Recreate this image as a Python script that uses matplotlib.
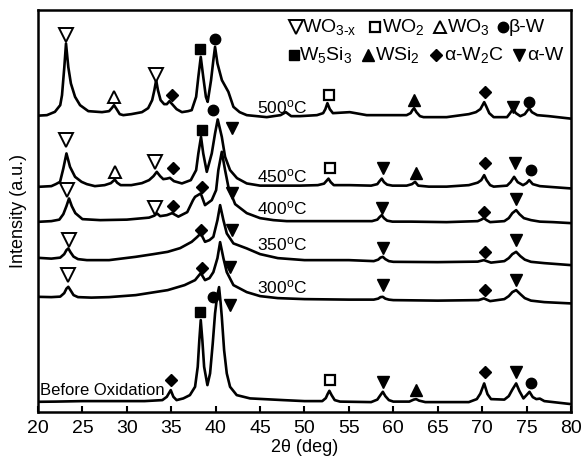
import numpy as np
import matplotlib.pyplot as plt

plt.rcParams['font.family'] = ['Liberation Sans', 'DejaVu Sans']
plt.rcParams['mathtext.fontset'] = 'custom'
plt.rcParams['mathtext.rm'] = 'Liberation Sans'
plt.rcParams['mathtext.it'] = 'Liberation Sans:italic'

# XRD patterns, (2theta, intensity a.u.), stacked with offsets
t500 = [(20.0, 296.5), (21.0, 297), (21.9, 300.3), (22.5, 307), (22.7, 317), (22.96, 345),
        (23.15, 368.7), (23.41, 345), (23.7, 328.7), (24.17, 315.3), (24.73, 307),
        (25.66, 301), (27.2, 300), (28.0, 301), (28.3, 304), (28.56, 307), (28.85, 303),
        (29.2, 298), (29.6, 297), (30.5, 298), (31.7, 300), (32.4, 304), (32.85, 312),
        (33.1, 322), (33.3, 332), (33.5, 322), (33.8, 312), (34.2, 308), (34.5, 308),
        (34.8, 311), (35.1, 308), (35.6, 303), (36.2, 300), (36.9, 301), (37.3, 302),
        (37.8, 315.3), (38.05, 335.3), (38.32, 355.3), (38.6, 335.3), (38.9, 315.3),
        (39.1, 310.3), (39.48, 332), (39.74, 352), (39.93, 365.3), (40.2, 348.7),
        (40.7, 332), (41.43, 320.3), (42.0, 305.3), (42.7, 300), (43.5, 297), (45.75, 295),
        (47.3, 297), (47.9, 300), (48.5, 296), (49.5, 296), (51.4, 297), (52.1, 299),
        (52.35, 303), (52.58, 309), (52.85, 303), (53.2, 299), (55.1, 300), (57.0, 297),
        (59.3, 297), (61.5, 297), (61.95, 299), (62.15, 302), (62.34, 304), (62.6, 300),
        (63.0, 296), (63.4, 295), (66.0, 295), (68.5, 298), (69.3, 300), (69.8, 303),
        (70.05, 307), (70.23, 310), (70.45, 306), (70.8, 299), (71.3, 295), (72.8, 295),
        (73.15, 299), (73.46, 303), (73.8, 299), (74.3, 296), (74.8, 298), (75.05, 301),
        (75.3, 304), (75.6, 300), (76.2, 297), (77.5, 296), (79.5, 294), (80.0, 293.5)]

t450 = [(20.0, 225.3), (21.5, 226), (22.0, 228), (22.48, 230.3), (22.85, 243.7),
        (23.2, 258.7), (23.6, 245.3), (24.17, 235.3), (24.9, 230.3), (25.5, 228),
        (26.4, 226), (27.5, 227), (28.2, 229), (28.45, 231), (28.65, 232.5), (28.9, 229.5),
        (29.3, 227), (30.5, 227), (31.7, 229), (32.5, 232), (33.0, 236), (33.37, 240.3),
        (33.75, 236), (34.1, 233), (34.5, 233.5), (34.85, 234.3), (35.3, 231), (36.2, 228.7),
        (37.2, 232), (37.8, 242), (38.05, 258.7), (38.35, 275.3), (38.6, 258.7),
        (39.0, 240.3), (39.56, 258.7), (39.93, 278.7), (40.23, 292.7), (40.69, 275.3),
        (41.06, 255.3), (41.62, 242), (42.4, 234), (43.5, 228.7), (45.0, 226.5),
        (47.0, 226.5), (49.5, 226.5), (51.5, 227), (52.2, 228.5), (52.45, 231),
        (52.7, 233.5), (52.95, 230), (53.3, 227), (55.1, 227), (57.5, 226.5), (58.2, 228),
        (58.45, 231), (58.7, 233.5), (58.95, 230), (59.3, 227.5), (59.9, 226.5),
        (61.5, 226.5), (62.1, 228), (62.45, 230.3), (62.8, 226.5), (64.0, 225.5),
        (66.0, 225.5), (68.5, 227), (69.5, 229.5), (69.9, 232), (70.23, 237), (70.5, 232),
        (70.9, 227), (71.3, 225.5), (72.8, 226.5), (73.2, 230), (73.6, 235.3), (74.0, 230),
        (74.6, 227), (75.0, 229), (75.3, 232), (75.7, 228), (76.5, 226), (78.0, 225),
        (80.0, 223.7)]

t400 = [(20.0, 190.3), (21.5, 191), (22.4, 192.5), (22.85, 198), (23.2, 206),
        (23.49, 213.7), (23.8, 206), (24.2, 199), (25.0, 193), (27.0, 192), (30.0, 192.5),
        (32.5, 194.5), (33.1, 196.5), (33.4, 198.7), (33.75, 196), (34.5, 197), (35.1, 199),
        (35.8, 195.5), (36.8, 200), (37.45, 212), (37.68, 215.3), (38.32, 218.7),
        (38.8, 207), (39.56, 212), (40.05, 222), (40.3, 242), (40.69, 260.3), (41.06, 242),
        (41.43, 225.3), (42.19, 208), (43.5, 199), (45.0, 194), (46.5, 192), (48.0, 191),
        (50.0, 191), (55.0, 191), (57.6, 191), (58.2, 192.5), (58.45, 195), (58.7, 197),
        (58.95, 194), (59.3, 191.5), (59.9, 190.5), (62.0, 190.5), (66.0, 190), (69.5, 191),
        (69.9, 192.5), (70.2, 194), (70.5, 192), (70.9, 190), (72.5, 191), (73.0, 194),
        (73.4, 199), (73.83, 202), (74.2, 198), (74.7, 194), (75.5, 192), (76.5, 190.5),
        (78.0, 190), (80.0, 189)]

t350 = [(20.0, 154.3), (21.5, 153.5), (22.5, 154.5), (22.95, 158), (23.2, 162),
        (23.41, 163.7), (23.65, 160), (24.0, 155.5), (24.5, 153), (25.5, 152), (28.0, 152),
        (31.0, 155.3), (33.0, 158), (34.6, 160.3), (36.0, 164), (37.3, 170.3), (37.9, 175),
        (38.32, 178.7), (38.8, 170.3), (39.3, 172), (39.74, 175.3), (40.2, 192), (40.5, 207),
        (40.87, 192), (41.25, 178.7), (42.0, 168.7), (43.5, 163.7), (45.0, 158), (47.0, 154),
        (50.0, 152), (55.0, 152), (57.8, 151), (58.3, 152.5), (58.55, 154.5), (58.82, 155.3),
        (59.1, 153), (59.5, 151), (60.0, 150.3), (65.0, 150), (69.5, 150.5), (70.2, 152),
        (71.0, 149.5), (72.5, 151), (73.0, 154), (73.4, 158), (73.83, 160.3), (74.3, 156),
        (74.8, 152.5), (75.5, 150.3), (77.0, 149), (80.0, 147)]

t300 = [(20.0, 115.3), (21.5, 115), (22.5, 115.5), (22.95, 119), (23.2, 123.5),
        (23.41, 125.3), (23.65, 122), (24.0, 117), (24.5, 115), (26.0, 114.5), (28.0, 115),
        (31.0, 117), (34.6, 122), (36.5, 127), (37.68, 132), (38.32, 139), (38.8, 132),
        (39.3, 134), (39.74, 140), (40.2, 154), (40.5, 170), (40.87, 154), (41.25, 140),
        (42.0, 127), (43.5, 120), (45.0, 116), (47.0, 114), (50.0, 113), (55.0, 112.5),
        (57.8, 112.5), (58.3, 113.5), (58.55, 115), (58.82, 115.3), (59.1, 113.5),
        (59.5, 112.5), (60.0, 112), (65.0, 111.5), (69.6, 112), (70.2, 113.7), (70.9, 111),
        (72.5, 113), (73.0, 116), (73.4, 120), (73.83, 122), (74.3, 118), (74.8, 114),
        (75.5, 111.5), (77.0, 110), (80.0, 108.7)]

t_before = [(20.0, 10.3), (22.0, 10.5), (25.0, 11), (28.0, 11), (32.0, 11), (34.0, 12),
            (34.5, 15.3), (34.94, 22), (35.24, 15.3), (35.6, 12), (36.36, 13.7), (37.1, 17),
            (37.68, 25.3), (37.98, 45.3), (38.16, 72), (38.32, 92), (38.5, 72), (38.7, 45.3),
            (39.07, 27), (39.37, 38.7), (39.67, 68.7), (39.93, 98.7), (40.15, 115),
            (40.38, 125), (40.55, 110), (40.69, 95.3), (40.95, 62), (41.25, 38.7),
            (41.62, 25.3), (42.37, 17), (43.87, 13.7), (47.6, 12), (50.0, 11), (52.0, 11),
            (52.4, 14), (52.6, 18), (52.8, 21.3), (53.05, 17), (53.4, 12), (54.0, 10.5),
            (57.5, 10), (58.2, 12.5), (58.55, 17), (58.82, 20.3), (59.1, 16), (59.5, 12),
            (60.0, 10.5), (61.8, 10.5), (62.3, 12.5), (62.57, 13), (62.9, 11.5), (63.6, 10),
            (68.5, 10), (69.4, 13), (69.8, 18.5), (70.23, 28.7), (70.6, 18), (71.0, 13),
            (72.5, 12.5), (73.0, 16), (73.4, 22.5), (73.83, 28.7), (74.2, 21), (74.65, 13.7),
            (75.0, 17), (75.33, 20.3), (75.7, 15), (76.1, 13), (76.5, 13.5), (77.0, 11),
            (80.0, 8)]

traces = [t500, t450, t400, t350, t300, t_before]
trace_labels = ['500', '450', '400', '350', '300', 'Before Oxidation']

# phase identification marks (2theta, intensity)
wo3x = [(23.15, 377), (33.29, 337.5), (23.15, 272), (33.18, 250.3), (23.3, 222),
        (33.18, 203.7), (23.5, 172), (23.41, 137)]
wo2 = [(52.8, 317), (52.85, 243.7), (52.85, 32)]
wo3 = [(28.56, 315.3), (28.67, 240.3)]
beta_w = [(39.93, 372.7), (75.33, 310.3), (39.74, 302), (75.48, 242), (39.74, 115.3),
          (75.48, 28.7)]
w5si3 = [(38.24, 362.7), (38.43, 282), (38.24, 100.3)]
wsi2 = [(62.34, 312), (62.57, 238.7), (62.57, 22)]
w2c = [(35.05, 317), (70.34, 320.3), (35.17, 243.7), (70.34, 248.7), (35.17, 206),
       (38.43, 225.3), (70.23, 200.3), (38.32, 182), (70.34, 160.3), (38.43, 144),
       (70.34, 122), (34.94, 32), (70.34, 40.3)]
alpha_w = [(73.46, 305.3), (41.85, 283.7), (58.82, 243.7), (73.72, 248.7), (41.85, 218.7),
           (58.7, 203.7), (73.83, 212.7), (41.85, 182), (58.82, 163.7), (73.83, 172),
           (41.62, 145.3), (58.82, 127), (73.83, 132), (41.62, 107), (58.82, 30.3),
           (73.83, 40.3)]

key_labels = [r'WO$_{3\text{-}\mathrm{x}}$', r'WO$_2$', r'WO$_3$', 'β-W',
              r'W$_5$Si$_3$', r'WSi$_2$', r'α-W$_2$C', 'α-W']

styles = {
    'wo3x': dict(marker='v', ms=9.5, mfc='white', mec='black', mew=1.4),
    'wo2': dict(marker='s', ms=7.5, mfc='white', mec='black', mew=1.6),
    'wo3': dict(marker='^', ms=8.5, mfc='white', mec='black', mew=1.4),
    'beta_w': dict(marker='o', ms=7.5, mfc='black', mec='black'),
    'w5si3': dict(marker='s', ms=7, mfc='black', mec='black'),
    'wsi2': dict(marker='^', ms=8.5, mfc='black', mec='black'),
    'w2c': dict(marker='D', ms=6.5, mfc='black', mec='black'),
    'alpha_w': dict(marker='v', ms=9, mfc='black', mec='black'),
}
phase_pts = {'wo3x': wo3x, 'wo2': wo2, 'wo3': wo3, 'beta_w': beta_w,
             'w5si3': w5si3, 'wsi2': wsi2, 'w2c': w2c, 'alpha_w': alpha_w}
key_order = ['wo3x', 'wo2', 'wo3', 'beta_w', 'w5si3', 'wsi2', 'w2c', 'alpha_w']

fig = plt.figure(figsize=(5.85, 4.62), dpi=100)
ax = fig.add_axes([0.065, 0.108, 0.911, 0.870])

for tr in traces:
    d = np.array(tr)
    ax.plot(d[:, 0], d[:, 1], color='black', lw=1.9, zorder=2,
            solid_joinstyle='round')

for name, pts in phase_pts.items():
    d = np.array(pts)
    ax.plot(d[:, 0], d[:, 1], ls='none', zorder=3, **styles[name])

# sample labels sitting on each pattern
for tr, lab in zip(traces[:5], trace_labels[:5]):
    d = np.array(tr)
    yb = np.interp(44.7, d[:, 0], d[:, 1])
    ax.text(44.6, yb + 2.5, lab + r'$^\mathregular{o}$C', fontsize=12.5,
            ha='left', va='baseline')
ax.text(20.25, 17, trace_labels[5], fontsize=12, ha='left', va='baseline')

# phase key, two rows in the upper right (axes fractions)
key_marker_x = [0.485, 0.633, 0.754, 0.872, 0.480, 0.619, 0.747, 0.902]
key_text_x = [0.496, 0.646, 0.768, 0.883, 0.489, 0.633, 0.762, 0.917]
key_y = [0.958] * 4 + [0.888] * 4
for name, lab, mx, tx, ky in zip(key_order, key_labels, key_marker_x, key_text_x, key_y):
    ax.plot([mx], [ky], transform=ax.transAxes, ls='none', clip_on=False, **styles[name])
    ax.text(tx, ky, lab, transform=ax.transAxes, fontsize=14, ha='left', va='center')

ax.set_xlim(20, 80)
ax.set_ylim(0, 402)
ax.set_xticks(np.arange(20, 81, 5))
ax.set_yticks([])
ax.tick_params(axis='x', direction='in', length=4, width=1.5, labelsize=14, pad=6)
for s in ax.spines.values():
    s.set_linewidth(1.8)
ax.set_xlabel('2θ (deg)', fontsize=13, labelpad=1)
ax.set_ylabel('Intensity (a.u.)', fontsize=13, labelpad=8)

fig.savefig('out.png', dpi=100)
